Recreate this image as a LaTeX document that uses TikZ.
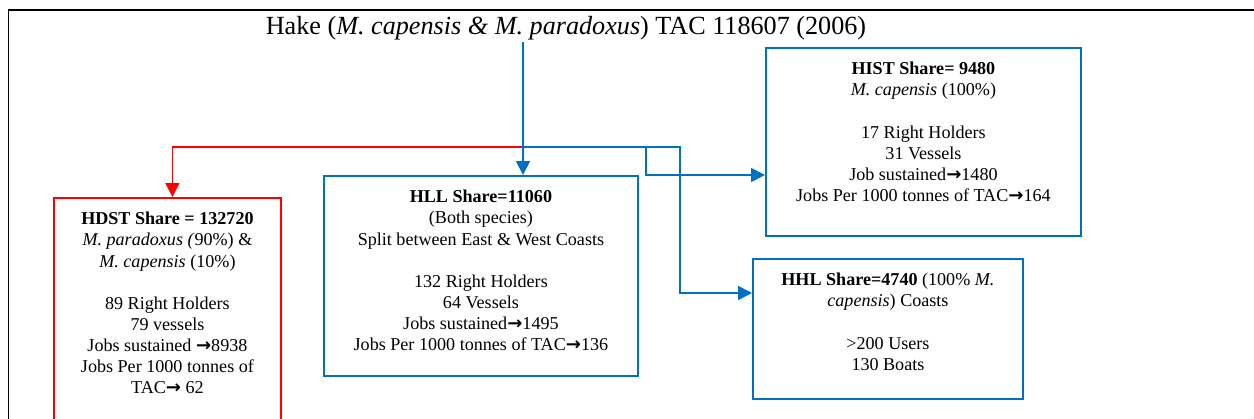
\documentclass[tikz,border=0pt]{standalone}
\usepackage{fontspec}
\setmainfont{Liberation Serif}
\newfontfamily\arrowfont{DejaVu Sans}
\usetikzlibrary{positioning,calc}
\usetikzlibrary{arrows.meta}
\definecolor{HakeBlue}{RGB}{0,112,192}
\definecolor{HakeRed}{RGB}{255,0,0}
\newcommand{\ra}{{\arrowfont\bfseries →}}
\tikzset{
  box/.style={draw=HakeBlue,line width=1.1pt,anchor=north west,inner sep=0pt},
  redbox/.style={box,draw=HakeRed},
  info/.style={anchor=north,align=center,inner sep=0pt,font=\fontsize{10.3}{12}\selectfont},
  flow/.style={draw=HakeBlue,line width=1pt,-{Triangle[length=0.28cm,width=0.28cm]}},
  redflow/.style={flow,draw=HakeRed},
}

\begin{document}
\begin{tikzpicture}[x=0.02cm,y=-0.02cm]
\useasboundingbox (0,0) rectangle (1254,419);
\clip (0,0) rectangle (1254,419);
\draw[line width=1.6pt] (8,10) -- (1254,10);
\draw[line width=0.5pt] (8,10) -- (8,419);
\node[font=\fontsize{14.9}{17}\selectfont,inner sep=1pt] (title) at (566,28)
  {Hake (\textit{M. capensis \& M. paradoxus}) TAC 118607 (2006)};
\node[redbox,minimum width=4.54cm,minimum height=4.7cm] (hdst) at (53,197) {};
\node[box,minimum width=6.28cm,minimum height=4cm] (hll) at (323,175) {};
\node[box,minimum width=6.3cm,minimum height=3.76cm] (hist) at (765,47) {};
\node[box,minimum width=5.4cm,minimum height=2.8cm] (hhl) at (752,258) {};
\node[info] (hdsttext) at ([yshift=-0.3cm]hdst.north)
  {\textbf{HDST Share = 132720}\\ \textit{M. paradoxus (}90\%) \&\\ \textit{M. capensis} (10\%)\\[12pt]
   89 Right Holders\\ 79 vessels\\ Jobs sustained \ra8938\\ Jobs Per 1000 tonnes of\\ TAC\ra{} 62};
\node[info] (hlltext) at ([yshift=-0.3cm]hll.north)
  {\textbf{HLL Share=11060}\\ (Both species)\\ Split between East \& West Coasts\\[12pt]
   132 Right Holders\\ 64 Vessels\\ Jobs sustained\ra1495\\ Jobs Per 1000 tonnes of TAC\ra136};
\node[info] (histtext) at ([yshift=-0.3cm]hist.north)
  {\textbf{HIST Share= 9480}\\ \textit{M. capensis} (100\%)\\[12pt]
   17 Right Holders\\ 31 Vessels\\ Job sustained\ra1480\\ Jobs Per 1000 tonnes of TAC\ra164};
\node[info] (hhltext) at ([yshift=-0.3cm]hhl.north)
  {\textbf{HHL Share=4740} (100\% \textit{M.}\\ \textit{capensis}) Coasts\\[12pt]
   >200 Users\\ 130 Boats};
% split points of the flow
\coordinate (split) at (523,147);
\coordinate (kneeA) at (646,175);
\coordinate (kneeB) at (680,293);
\draw[redflow] (split) -| ([xshift=0.1cm]hdst.north);
\draw[flow] (title.south -| split) -- (hll.north -| split);
\draw[flow] (split) -| (kneeA) -- (kneeA -| hist.west);
\draw[flow] (split) -| (kneeB) -- (kneeB -| hhl.west);
\end{tikzpicture}
\end{document}
